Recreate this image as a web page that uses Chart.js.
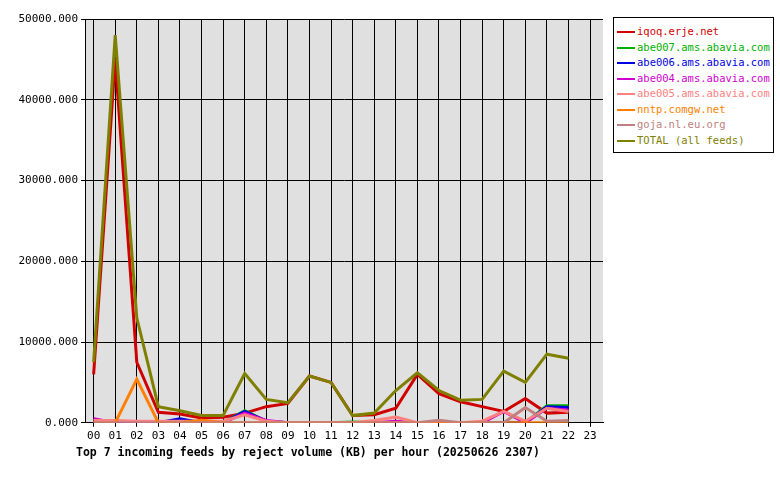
<!DOCTYPE html>
<html><head><meta charset="utf-8">
<script src="https://cdn.jsdelivr.net/npm/chart.js@4/dist/chart.umd.min.js"></script>
<style>
body{margin:0;background:#fff;font-family:"DejaVu Sans Mono",monospace}
#c{position:absolute;left:0;top:0}
#legend{position:absolute;left:613px;top:17px;width:161px;border:1px solid #000;padding:6px 0 4px 3px;font-size:10.5px;line-height:15.5px;box-sizing:border-box;white-space:nowrap;overflow:hidden}
#legend div span.l{display:inline-block;width:18px;height:2px;vertical-align:middle;margin-right:2px}
#title{position:absolute;left:76px;top:445px;font-size:11.5px;font-weight:bold}
</style></head><body>
<canvas id="c" width="610" height="446"></canvas>
<div id="legend"></div>
<div id="title">Top 7 incoming feeds by reject volume (KB) per hour (20250626 2307)</div>
<script>
var hours = [0,1,2,3,4,5,6,7,8,9,10,11,12,13,14,15,16,17,18,19,20,21,22];
var names = ["iqoq.erje.net","abe007.ams.abavia.com","abe006.ams.abavia.com","abe004.ams.abavia.com","abe005.ams.abavia.com","nntp.comgw.net","goja.nl.eu.org","TOTAL (all feeds)"];
var colors = ["#d00000","#00b000","#0000e0","#d000d0","#ff8080","#ff8000","#c08080","#808000"];
var iqoq   = [6000,45000,7500,1300,1100,600,700,1200,2000,2400,5800,5000,900,1000,1800,6000,3600,2600,2000,1400,3000,1200,1300];
var abe007 = [0,0,0,0,0,0,0,1500,200,0,0,0,100,0,0,0,0,0,0,0,0,2100,2100];
var abe006 = [0,0,0,0,500,0,0,1400,200,0,0,0,0,0,0,0,0,0,0,0,0,2000,1900];
var abe004 = [500,0,0,0,0,0,0,1200,300,0,0,0,0,0,200,0,0,0,0,1400,0,1800,1600];
var abe005 = [300,300,200,200,200,200,200,1000,200,0,0,0,0,300,700,0,0,0,200,1400,200,1800,1400];
var nntp   = [0,0,5400,0,0,300,0,0,0,0,0,0,0,0,0,0,0,0,0,0,0,0,0];
var goja   = [0,0,0,0,0,0,0,0,0,0,0,0,0,0,0,0,300,0,0,0,1900,200,300];
var total  = [7500,48000,13000,2000,1500,900,900,6100,2900,2500,5800,5000,900,1200,4000,6200,4000,2800,2900,6400,5000,8500,8000];
var series = [iqoq,abe007,abe006,abe004,abe005,nntp,goja,total];

var lg = document.getElementById('legend');
names.forEach(function(n,i){
  lg.innerHTML += '<div style="color:'+colors[i]+'"><span class="l" style="background:'+colors[i]+'"></span>'+n+'</div>';
});

var font = {family:'"DejaVu Sans Mono", monospace', size:11};
var bgPlugin = {id:'bg', beforeDraw:function(ch){
  var a = ch.chartArea, c = ch.ctx;
  c.save(); c.fillStyle='#e0e0e0'; c.fillRect(a.left,a.top,a.right-a.left,a.bottom-a.top); c.restore();
}};
new Chart(document.getElementById('c'), {
  type:'line',
  data:{datasets: series.map(function(s,i){
    return {label:names[i], data:s.map(function(v,j){return {x:hours[j],y:v};}),
      borderColor:colors[i], borderWidth:3, pointRadius:0, tension:0, order:8-i};
  })},
  options:{
    responsive:false, animation:false, devicePixelRatio:1,
    layout:{padding:{left:0,top:19,right:7,bottom:0}},
    plugins:{legend:{display:false}, tooltip:{enabled:false}},
    scales:{
      x:{type:'linear', min:-0.4, max:23.6, afterBuildTicks:function(s){s.ticks=[];for(var i=0;i<24;i++)s.ticks.push({value:i});},
        grid:{color:'#000', tickLength:4}, border:{color:'#000'},
        ticks:{color:'#000', font:font, autoSkip:false, maxRotation:0, callback:function(v){return (v<10?'0':'')+v;}}},
      y:{min:0, max:50000, afterFit:function(s){s.width=85;},
        grid:{color:'#000', tickLength:4}, border:{color:'#000'},
        ticks:{stepSize:10000, color:'#000', font:font, callback:function(v){return v.toFixed(3);}}}
    }
  },
  plugins:[bgPlugin]
});
</script>
</body></html>
